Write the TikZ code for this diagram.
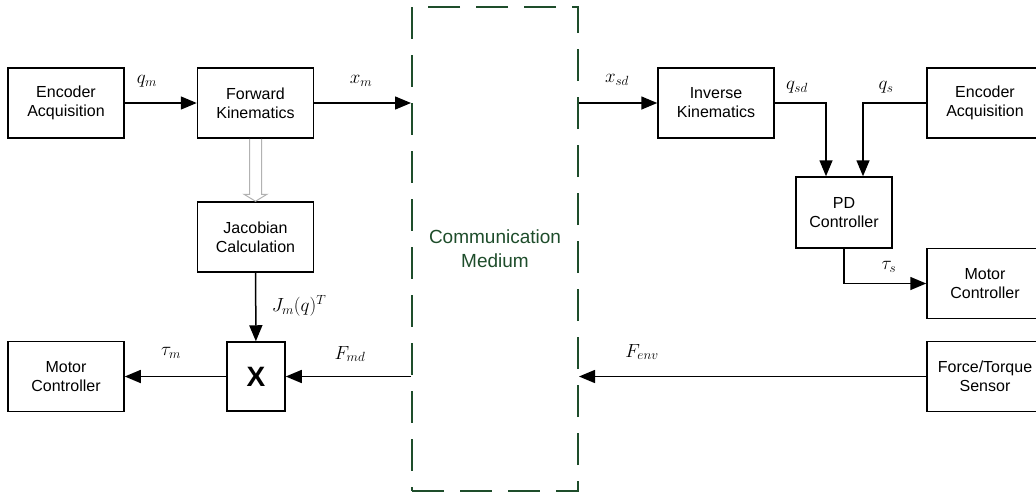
\RequirePackage{fix-cm}
\documentclass[tikz,border=0pt]{standalone}
\usepackage{fontspec}
\setmainfont{Liberation Sans}
\usetikzlibrary{arrows.meta,calc}
\definecolor{medgreen}{RGB}{30,77,43}
\begin{document}
\begin{tikzpicture}[
			x=1pt,y=-1pt,
			block/.style={draw,line width=1.5pt,minimum width=116pt,minimum height=70pt,inner sep=0pt,align=center,font=\fontsize{16}{19}\selectfont},
			medium/.style={draw=medgreen,text=medgreen,line width=2pt,dash pattern=on 32pt off 16pt,minimum width=166pt,minimum height=484pt,align=center,font=\fontsize{19}{24}\selectfont},
			sig/.style={line width=1.5pt,-{Triangle[length=16pt,width=13pt]}},
			lbl/.style={font=\fontsize{19}{23}\selectfont,inner sep=0pt}
		]
		\clip (0,0) rectangle (1036,493);
		% master side
		\node[block] (encm) at (66,103) {Encoder\\Acquisition};
		\node[block] (fk) at (255.5,103) {Forward\\Kinematics};
		\node[block] (jac) at (255.5,237) {Jacobian\\Calculation};
		\node[block] (mcm) at (66,376.5) {Motor\\Controller};
		\node[block,minimum width=58pt,minimum height=69pt,font=\fontsize{28}{30}\selectfont\bfseries] (mult) at (256,376.5) {X};
		% channel
		\node[medium] (comm) at (495,249) {Communication\\Medium};
		% slave side
		\node[block] (ik) at (716,103) {Inverse\\Kinematics};
		\node[block] (encs) at (985,103) {Encoder\\Acquisition};
		\node[block,minimum width=96pt,minimum height=71pt] (pd) at (844,212.5) {PD\\Controller};
		\node[block] (mcs) at (985,283.5) {Motor\\Controller};
		\node[block] (fts) at (985,376.5) {Force/Torque\\Sensor};

		\draw[sig] (encm) -- (fk);
		\draw[sig] (fk) -- (fk -| comm.west);
		\draw[gray!60,line width=1pt,line join=miter] ($(fk.south)+(-6,0)$) -- ($(jac.north)+(-6,-7)$) -- ($(jac.north)+(-11.5,-7)$)
			-- (jac.north) -- ($(jac.north)+(11.5,-7)$) -- ($(jac.north)+(6,-7)$) -- ($(fk.south)+(6,0)$);
		\draw[sig] (jac) -- (mult);
		\draw[sig] (mult) -- (mcm);
		\draw[sig] (mult -| comm.west) -- (mult);
		\draw[sig] (ik -| comm.east) -- (ik);
		\draw[sig] (ik.east) -| ($(pd.north)+(-18,0)$);
		\draw[sig] (encs.west) -| ($(pd.north)+(19,0)$);
		\draw[sig] (pd.south) |- (mcs.west);
		\draw[sig] (fts) -- (fts -| comm.east);

		% signal labels
		\node[lbl] (qm) at (147,81) {$q_m$};
		\node[lbl] (xm) at (361,81) {$x_m$};
		\node[lbl] (jm) at (299,306) {$J_m(q)^T$};
		\node[lbl] (taum) at (171,353) {$\tau_m$};
		\node[lbl] (fmd) at (350,354) {$F_{md}$};
		\node[lbl] (xsd) at (617,80) {$x_{sd}$};
		\node[lbl] (qsd) at (797,87) {$q_{sd}$};
		\node[lbl] (qs) at (886,87) {$q_s$};
		\node[lbl] (taus) at (889,267) {$\tau_s$};
		\node[lbl] (fenv) at (642,352) {$F_{env}$};
	\end{tikzpicture}
\end{document}
